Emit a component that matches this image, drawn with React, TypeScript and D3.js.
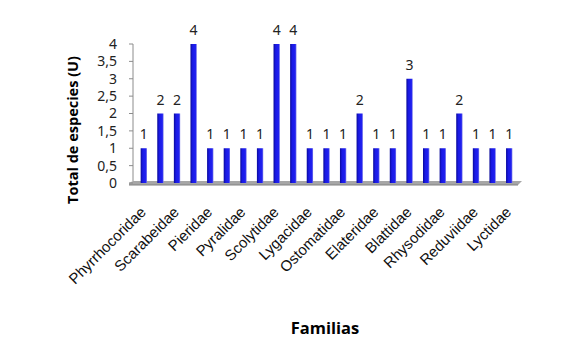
import React, { useEffect, useRef } from "react";
import * as d3 from "d3";

// 23 families, Excel only printed every other name
const familias = [
  "Phyrrhocoridae", "", "Scarabeidae", "", "Pieridae", "", "Pyralidae", "",
  "Scolytidae", "", "Lygacidae", "", "Ostomatidae", "", "Elateridae", "",
  "Blattidae", "", "Rhysodidae", "", "Reduviidae", "", "Lyctidae",
];
const especies = [1, 2, 2, 4, 1, 1, 1, 1, 4, 4, 1, 1, 1, 2, 1, 1, 3, 1, 1, 2, 1, 1, 1];
const yTicks = [0, 0.5, 1, 1.5, 2, 2.5, 3, 3.5, 4];

export default function App() {
  const ref = useRef<SVGSVGElement>(null);

  useEffect(() => {
    const svg = d3.select(ref.current);
    svg.selectAll("*").remove();

    const ids = familias.map((_, i) => String(i));
    const x = d3.scaleBand().domain(ids).range([135.5, 517.5]).paddingInner(0.62).paddingOuter(0.31);
    const y = d3.scaleLinear().domain([0, 4]).range([183, 44]);

    const defs = svg.append("defs");
    const grad = defs.append("linearGradient").attr("id", "barGrad");
    grad.append("stop").attr("offset", "0%").attr("stop-color", "#0a0a9a");
    grad.append("stop").attr("offset", "35%").attr("stop-color", "#1a1ae6");
    grad.append("stop").attr("offset", "80%").attr("stop-color", "#2020f0");
    grad.append("stop").attr("offset", "100%").attr("stop-color", "#8080e8");

    // floor of the 3D plot
    svg.append("path")
      .attr("d", "M129,183 L133,181 L522,181 L518,185 L129,185 Z")
      .attr("fill", "#a6a6a6");
    svg.append("line")
      .attr("x1", 129).attr("x2", 518).attr("y1", 185).attr("y2", 185)
      .attr("stroke", "#808080");

    // y axis
    svg.append("line")
      .attr("x1", 133).attr("x2", 133).attr("y1", y(4)).attr("y2", 181)
      .attr("stroke", "#8c8c8c");
    const yg = svg.append("g");
    yTicks.forEach((t) => {
      yg.append("line")
        .attr("x1", 129).attr("x2", 133).attr("y1", y(t)).attr("y2", y(t))
        .attr("stroke", "#8c8c8c");
      yg.append("text")
        .attr("x", 117).attr("y", y(t)).attr("dy", "0.35em")
        .attr("text-anchor", "end")
        .attr("font-family", "Noto Sans, sans-serif").attr("font-size", 14)
        .attr("fill", "#222")
        .text(String(t).replace(".", ","));
    });

    // bars
    const bars = svg.append("g");
    especies.forEach((v, i) => {
      const bx = x(ids[i])!;
      bars.append("rect")
        .attr("x", bx).attr("y", y(v))
        .attr("width", x.bandwidth()).attr("height", y(0) - y(v))
        .attr("fill", "url(#barGrad)");
      bars.append("text")
        .attr("x", bx + x.bandwidth() / 2).attr("y", y(v) - 9)
        .attr("text-anchor", "middle")
        .attr("font-family", "Noto Sans, sans-serif").attr("font-size", 14)
        .attr("fill", "#222")
        .text(v);
    });

    // category labels
    const lg = svg.append("g");
    familias.forEach((f, i) => {
      if (!f) return;
      const cx = x(ids[i])! + x.bandwidth() / 2 + 3;
      lg.append("text")
        .attr("transform", `translate(${cx},${213}) rotate(-45)`)
        .attr("text-anchor", "end")
        .attr("font-family", "Liberation Sans, Arial, sans-serif").attr("font-size", 15)
        .attr("fill", "#111")
        .text(f);
    });

    svg.append("text")
      .attr("transform", `translate(78,130) rotate(-90)`)
      .attr("text-anchor", "middle")
      .attr("font-family", "Open Sans, sans-serif").attr("font-weight", "bold").attr("font-size", 14.5)
      .attr("fill", "#000")
      .text("Total de especies (U)");

    svg.append("text")
      .attr("x", 325).attr("y", 334)
      .attr("text-anchor", "middle")
      .attr("font-family", "Open Sans, sans-serif").attr("font-weight", "bold").attr("font-size", 16.5)
      .attr("fill", "#000")
      .text("Familias");
  }, []);

  return (
    <svg ref={ref} width={587} height={358} style={{ position: "absolute", left: 0, top: 0, background: "#fff" }} />
  );
}
